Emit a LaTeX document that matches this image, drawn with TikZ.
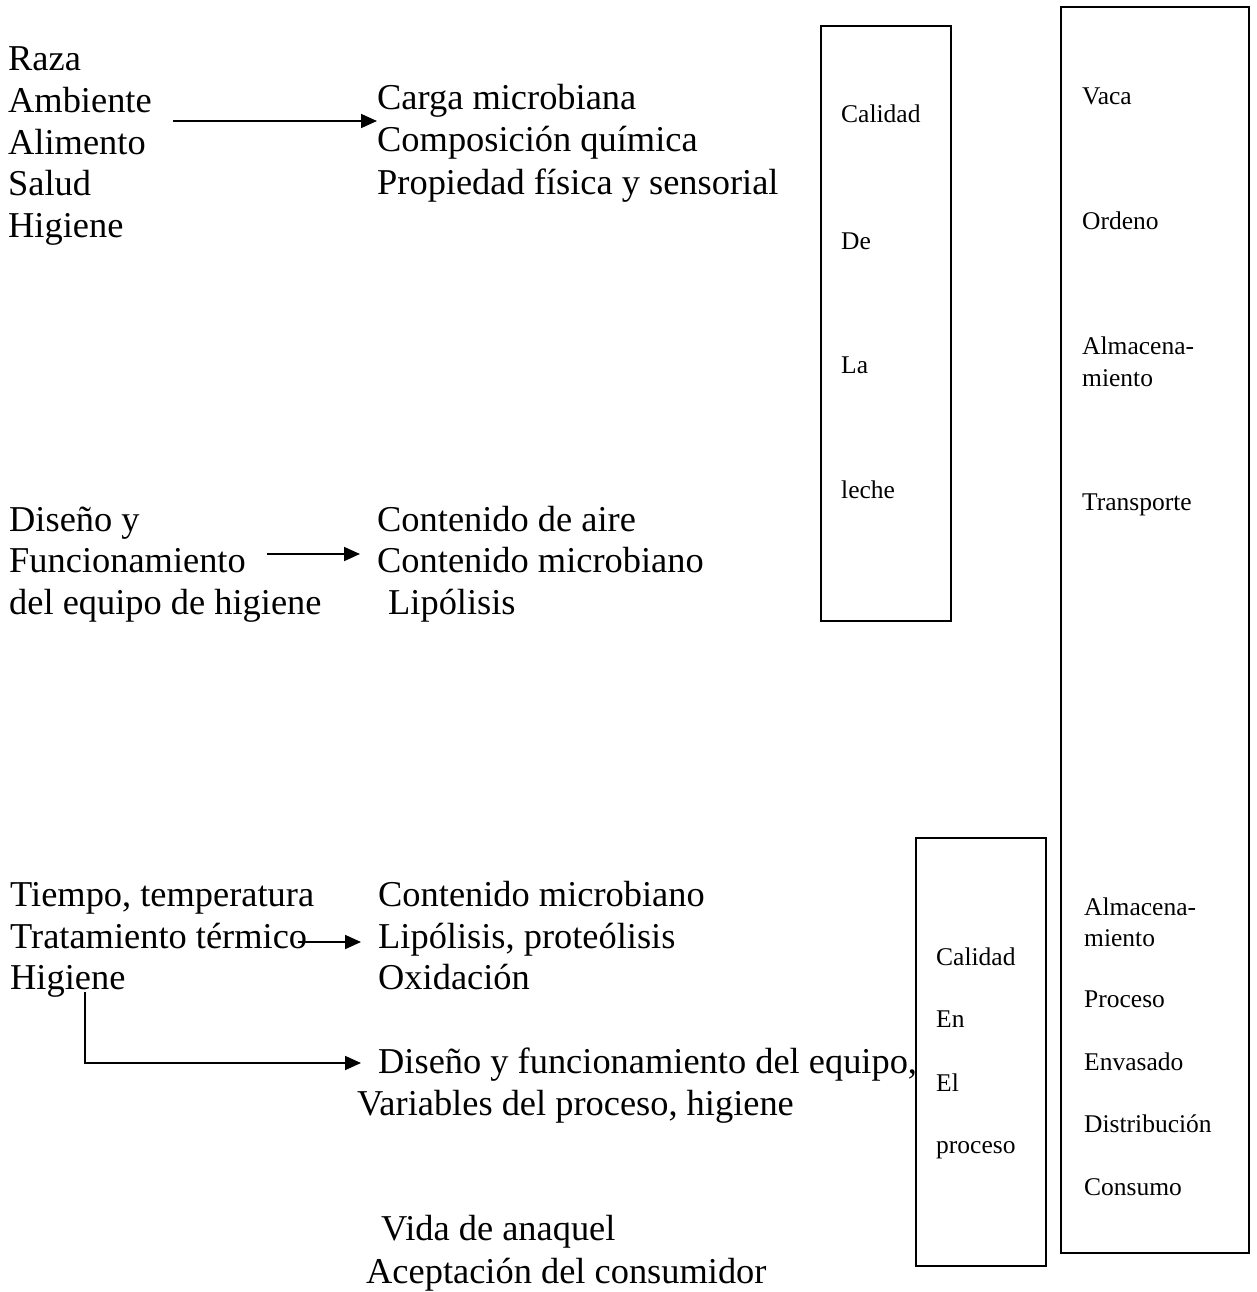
\documentclass[tikz,border=0pt]{standalone}
\usepackage{fontspec}
\setmainfont{Liberation Serif}
\usetikzlibrary{arrows.meta}
\begin{document}
\begin{tikzpicture}[x=1pt,y=-1pt,
  bigtxt/.style={font=\fontsize{36.4}{41.5}\selectfont, anchor=base west, inner sep=0pt},
  smalltxt/.style={font=\fontsize{25.5}{31}\selectfont, anchor=base west, inner sep=0pt},
  boxr/.style={draw, line width=1.8pt, inner sep=0pt},
  conn/.style={line width=1.8pt, -{Triangle[length=16pt,width=14pt]}}]
\fill[white] (0,0) rectangle (1256,1292);
\useasboundingbox (0,0) rectangle (1256,1292);

% --- block 1
\node[bigtxt] (raza) at (8,71) {Raza};
\node[bigtxt] (amb) at (8,113) {Ambiente};
\node[bigtxt] (alim) at (8,155) {Alimento};
\node[bigtxt] (salud) at (8,196) {Salud};
\node[bigtxt] (hig1) at (8,237) {Higiene};
\node[bigtxt] (carga) at (377,110) {Carga microbiana};
\node[bigtxt] (comp) at (377,152) {Composición química};
\node[bigtxt] (prop) at (377,194) {Propiedad física y sensorial};
\coordinate (a1s) at (173,121);
\coordinate (a1e) at (377,121);
\draw[conn] (a1s) -- (a1e);

% --- block 2
\node[bigtxt] (dis) at (9,531) {Diseño y};
\node[bigtxt] (func) at (9,572) {Funcionamiento};
\node[bigtxt] (deleq) at (9,614) {del equipo de higiene};
\node[bigtxt] (aire) at (377,531) {Contenido de aire};
\node[bigtxt] (cmic1) at (377,572) {Contenido microbiano};
\node[bigtxt] (lip1) at (388,614) {Lipólisis};
\coordinate (a2s) at (267,554);
\coordinate (a2e) at (360,554);
\draw[conn] (a2s) -- (a2e);

% --- block 3
\node[bigtxt] (tiempo) at (10,906) {Tiempo, temperatura};
\node[bigtxt] (trat) at (10,948) {Tratamiento térmico};
\node[bigtxt] (hig3) at (10,989) {Higiene};
\node[bigtxt] (cmic3) at (378,906) {Contenido microbiano};
\node[bigtxt] (lipp) at (378,948) {Lipólisis, proteólisis};
\node[bigtxt] (oxid) at (378,989) {Oxidación};
\node[bigtxt] (diseq) at (378,1073) {Diseño y funcionamiento del equipo,};
\node[bigtxt] (varp) at (357,1115) {Variables del proceso, higiene};
\node[bigtxt] (vida) at (381,1240) {Vida de anaquel};
\node[bigtxt] (acep) at (366,1283) {Aceptación del consumidor};
\coordinate (a3s) at (298,942);
\coordinate (a3e) at (361,942);
\draw[conn] (a3s) -- (a3e);
\coordinate (a4s) at (85,992);
\coordinate (a4e) at (361,1063);
\draw[conn] (a4s) |- (a4e);

% --- boxes
\node[boxr, minimum width=130pt, minimum height=595pt, anchor=north west] (boxleche) at (820,25) {};
\node[smalltxt] (cal1) at (841,123) {Calidad};
\node[smalltxt] (de1) at (841,249) {De};
\node[smalltxt] (la1) at (841,373) {La};
\node[smalltxt] (leche1) at (841,498) {leche};

\node[boxr, minimum width=188pt, minimum height=1246pt, anchor=north west] (boxcadena) at (1060,6) {};
\node[smalltxt] (vaca) at (1082,105) {Vaca};
\node[smalltxt] (ordeno) at (1082,229) {Ordeno};
\node[smalltxt] (alma1) at (1082,354) {Almacena-};
\node[smalltxt] (mient1) at (1082,386) {miento};
\node[smalltxt] (transp) at (1082,510) {Transporte};
\node[smalltxt] (alma2) at (1084,915) {Almacena-};
\node[smalltxt] (mient2) at (1084,946) {miento};
\node[smalltxt] (proc) at (1084,1007) {Proceso};
\node[smalltxt] (envas) at (1084,1070) {Envasado};
\node[smalltxt] (distr) at (1084,1132) {Distribución};
\node[smalltxt] (consu) at (1084,1195) {Consumo};

\node[boxr, minimum width=130pt, minimum height=428pt, anchor=north west] (boxproc) at (915,837) {};
\node[smalltxt] (cal2) at (936,965) {Calidad};
\node[smalltxt] (en2) at (936,1027) {En};
\node[smalltxt] (el2) at (936,1091) {El};
\node[smalltxt] (proc2) at (936,1153) {proceso};
\end{tikzpicture}
\end{document}
